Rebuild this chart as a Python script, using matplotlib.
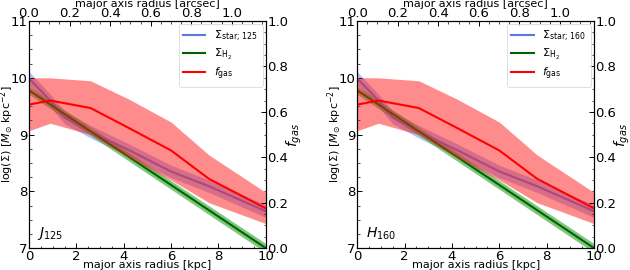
import matplotlib

matplotlib.use("Agg")
import matplotlib.pyplot as plt
import numpy as np
from matplotlib.ticker import AutoMinorLocator, MultipleLocator

# kpc per arcsec for the top axis
KPC_PER_ARCSEC = 8.56

# stellar mass surface density profile (log, M_sun kpc^-2)
r_star = [0.0, 0.9, 1.5, 2.6, 4.2, 6.0, 7.6, 10.0]
star_mid = [9.99, 9.60, 9.30, 9.05, 8.73, 8.35, 8.09, 7.65]
star_err = [0.12, 0.11, 0.11, 0.11, 0.11, 0.11, 0.11, 0.11]

# molecular gas profile
r_h2 = [0.0, 10.0]
h2_mid = [9.78, 7.0]
h2_err = [0.07, 0.08]

# gas fraction profile (right axis)
r_fgas = [0.0, 0.9, 2.6, 4.2, 6.0, 7.6, 10.0]
fgas_mid = [0.632, 0.650, 0.617, 0.530, 0.430, 0.305, 0.175]
fgas_hi = [0.750, 0.750, 0.737, 0.657, 0.555, 0.410, 0.245]
fgas_lo = [0.517, 0.550, 0.500, 0.400, 0.300, 0.200, 0.108]

bands = ["125", "160"]
band_letters = ["J", "H"]

FS = 8


def style_ticks(a):
    a.tick_params(which="both", direction="in", labelsize=9.5, pad=1)
    a.tick_params(which="major", length=3.5, width=0.7)
    a.tick_params(which="minor", length=1.8, width=0.5)


def draw_panel(ax, band, letter):
    ax.fill_between(r_star, np.array(star_mid) - star_err, np.array(star_mid) + star_err,
                    color="#6f8fef", alpha=0.55, lw=0)
    l1, = ax.plot(r_star, star_mid, color="#5a78e0", lw=1.5,
                  label=r"$\Sigma_{\rm star;\,%s}$" % band)
    ax.fill_between(r_h2, np.array(h2_mid) - h2_err, np.array(h2_mid) + h2_err,
                    color="#3aaa3a", alpha=0.65, lw=0)
    l2, = ax.plot(r_h2, h2_mid, color="#006400", lw=1.5, label=r"$\Sigma_{\rm H_2}$")
    ax.set_xlim(0, 10)
    ax.set_ylim(7, 11)
    ax.xaxis.set_major_locator(MultipleLocator(2))
    ax.xaxis.set_minor_locator(AutoMinorLocator(4))
    ax.yaxis.set_major_locator(MultipleLocator(1))
    ax.yaxis.set_minor_locator(AutoMinorLocator(4))
    ax.set_xlabel("major axis radius [kpc]", fontsize=FS, labelpad=-1.5)
    ax.set_ylabel(r"log($\Sigma$) [$M_{\odot}$ kpc$^{-2}$]", fontsize=FS)
    ax.yaxis.set_label_coords(-0.093, 0.5)
    ax.yaxis.label.set_va("center")
    ax.spines[:].set_linewidth(0.7)
    style_ticks(ax)
    ax.text(0.035, 0.065, r"$%s_{%s}$" % (letter, band),
            transform=ax.transAxes, fontsize=FS + 2, va="center", ha="left")

    ax2 = ax.twinx()
    ax2.fill_between(r_fgas, fgas_lo, fgas_hi, color="#ff1a1a", alpha=0.5, lw=0)
    l3, = ax2.plot(r_fgas, fgas_mid, color="red", lw=1.5, label=r"$f_{\rm gas}$")
    ax2.set_ylim(0, 1)
    ax2.yaxis.set_major_locator(MultipleLocator(0.2))
    ax2.yaxis.set_minor_locator(AutoMinorLocator(4))
    ax2.set_ylabel(r"$f_{gas}$", fontsize=10)
    ax2.yaxis.set_label_coords(1.12, 0.5)
    ax2.yaxis.label.set_va("center")
    style_ticks(ax2)

    ax3 = ax.twiny()
    ax3.set_xlim(0, 10 / KPC_PER_ARCSEC)
    ax3.xaxis.set_major_locator(MultipleLocator(0.2))
    ax3.xaxis.set_minor_locator(AutoMinorLocator(4))
    ax3.set_xlabel("major axis radius [arcsec]", fontsize=FS, labelpad=0)
    style_ticks(ax3)

    leg = ax3.legend(handles=[l1, l2, l3], loc="upper right", fontsize=FS,
                     framealpha=0.85, borderaxespad=0.3, handlelength=2.0,
                     labelspacing=0.3, borderpad=0.4)
    leg.get_frame().set_linewidth(0.5)


fig = plt.figure(figsize=(6.3, 2.7), dpi=100)
lefts = [0.046, 0.567]
for left, band, letter in zip(lefts, bands, band_letters):
    ax = fig.add_axes([left, 0.081, 0.376, 0.841])
    draw_panel(ax, band, letter)

fig.savefig("out.png", dpi=100)
